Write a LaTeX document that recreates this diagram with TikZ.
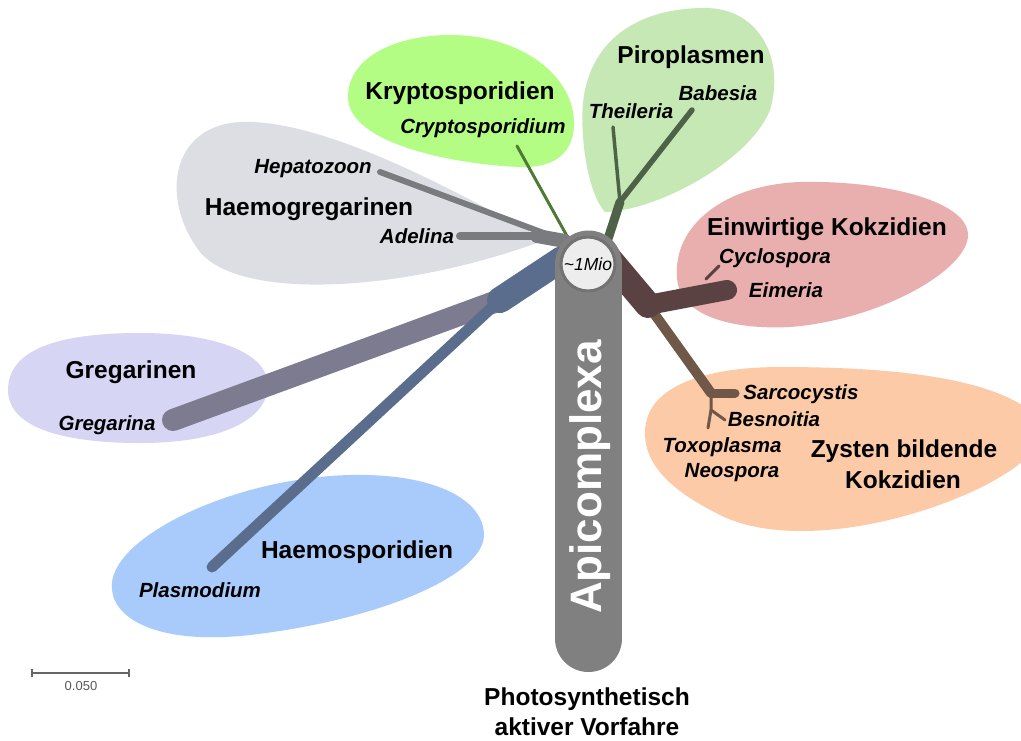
\documentclass[tikz,border=0pt]{standalone}
\usepackage{fontspec}
\setmainfont{Liberation Sans}
\definecolor{cHg}{HTML}{DCDEE3}
\definecolor{cKr}{HTML}{B3FD84}
\definecolor{cPi}{HTML}{C6E8B5}
\definecolor{cEi}{HTML}{E9AEAE}
\definecolor{cZy}{HTML}{FDCAA7}
\definecolor{cGr}{HTML}{D6D5F4}
\definecolor{cHs}{HTML}{A9CBFB}
\definecolor{bHg}{HTML}{7A7B7F}
\definecolor{bKr}{HTML}{4E7A36}
\definecolor{bPi}{HTML}{4D6247}
\definecolor{bEi}{HTML}{5B4242}
\definecolor{bZy}{HTML}{6F5847}
\definecolor{bGr}{HTML}{7D7B8F}
\definecolor{bBl}{HTML}{5A6D8C}
\definecolor{stalk}{HTML}{808080}
\begin{document}
\begin{tikzpicture}[x=1pt,y=-1pt,
  grp/.style={font=\bfseries\fontsize{24.5}{28}\selectfont, anchor=base, inner sep=0pt},
  gen/.style={font=\bfseries\itshape\fontsize{20.5}{24}\selectfont, anchor=base, inner sep=0pt},
  br/.style={line cap=round, line join=round}]
\useasboundingbox (0,0) rectangle (1021,740);
\fill[white] (0,0) rectangle (1021,740);
% blobs
\begin{scope}
\clip (0,0) rectangle (1021,740);
\fill[cHg] (545,240) .. controls (480,205) and (330,118) .. (240,122) .. controls (170,126) and (160,200) .. (200,252) .. controls (240,300) and (400,294) .. (545,240) -- cycle;
\fill[cKr] (348,97) .. controls (348,55) and (400,35) .. (450,35) .. controls (520,35) and (575,75) .. (574,125) .. controls (573,160) and (545,168) .. (520,167) .. controls (460,165) and (348,145) .. (348,97) -- cycle;
\fill[cPi] (605,212) .. controls (585,190) and (578,120) .. (585,90) .. controls (598,30) and (650,8) .. (705,8) .. controls (760,8) and (785,60) .. (770,110) .. controls (750,160) and (660,210) .. (605,212) -- cycle;
\fill[cEi] (678,285) .. controls (668,230) and (720,185) .. (800,182) .. controls (880,180) and (968,200) .. (968,235) .. controls (968,270) and (880,320) .. (790,327) .. controls (730,330) and (685,315) .. (678,285) -- cycle;
\fill[cZy] (645,433) .. controls (645,380) and (720,367) .. (780,367) .. controls (880,367) and (1000,375) .. (1040,420) .. controls (1060,450) and (980,500) .. (880,522) .. controls (820,535) and (760,535) .. (720,515) .. controls (680,495) and (645,470) .. (645,433) -- cycle;
\fill[cGr] (8,390) .. controls (8,345) and (70,333) .. (140,333) .. controls (220,333) and (268,355) .. (268,385) .. controls (268,420) and (220,443) .. (140,443) .. controls (70,443) and (8,430) .. (8,390) -- cycle;
\fill[cHs] (112,590) .. controls (105,540) and (230,478) .. (350,475) .. controls (435,473) and (484,500) .. (484,535) .. controls (484,575) and (380,620) .. (250,635) .. controls (160,645) and (115,620) .. (112,590) -- cycle;
\end{scope}
% tree coordinates
\coordinate (root) at (588,264);
\coordinate (hgJ) at (565,241);
\coordinate (hgB) at (537,236);
\coordinate (adel) at (460,236);
\coordinate (hepa) at (380,172);
\coordinate (kr0) at (567,236);
\coordinate (kr) at (517,146);
\coordinate (pi0) at (606,245);
\coordinate (piJ) at (620,202);
\coordinate (the) at (613,127);
\coordinate (bab) at (692,110);
\coordinate (ei0) at (600,248);
\coordinate (eiJ) at (648,305);
\coordinate (eim) at (727,290);
\coordinate (cy0) at (706,279);
\coordinate (cyc) at (719,266);
\coordinate (zyJ) at (711,393);
\coordinate (sar) at (735,393);
\coordinate (zy2) at (711,410);
\coordinate (bes) at (725,420);
\coordinate (tox) at (708,428);
\coordinate (bl0) at (562,259);
\coordinate (blJ) at (500,300);
\coordinate (gre) at (173,420);
\coordinate (pla) at (212,567);
% branches
\draw[br, bKr, line width=3] (kr0) -- (kr);
\draw[br, bPi, line width=9] (pi0) -- (piJ);
\draw[br, bPi, line width=3.5] (piJ) -- (the);
\draw[br, bPi, line width=5.5] (piJ) -- (bab);
\draw[br, bZy, line width=10] (eiJ) -- (zyJ);
\draw[br, bZy, line width=9] (zyJ) -- (sar);
\draw[br, bZy, line width=3] (zyJ) -- (zy2) -- (bes);
\draw[br, bZy, line width=3] (zy2) -- (tox);
\draw[br, bEi, line width=26] (ei0) -- (eiJ);
\draw[br, bEi, line width=20] (eiJ) -- (eim);
\draw[br, bEi, line width=3] (cy0) -- (cyc);
\draw[br, bGr, line width=22] (gre) -- (blJ);
\draw[br, bBl, line width=11] (pla) -- (blJ);
\draw[br, bBl, line width=26] (blJ) -- (bl0);
\draw[br, bHg, line width=6] (hepa) -- (hgJ);
\draw[br, bHg, line width=8] (adel) -- (hgB);
\draw[br, bHg, line width=14] (hgB) -- (hgJ);
% stalk
\coordinate (stT) at (588.5,264);
\coordinate (stB) at (588.5,638.5);
\draw[stalk, line width=67, line cap=round] (stT) -- (stB);
\node[rotate=90, anchor=base, inner sep=0pt, text=white, font=\bfseries\fontsize{44}{50}\selectfont] (api) at (601,477) {Apicomplexa};
\node[circle, draw=black!55, line width=3, fill=black!7, minimum size=54pt, inner sep=0pt, font=\itshape\fontsize{17.5}{20}\selectfont] (mio) at (root) {\textasciitilde 1Mio};
% labels
\node[grp] (lKr) at (460,99) {Kryptosporidien};
\node[gen] (gKr) at (483,133) {Cryptosporidium};
\node[grp] (lPi) at (691,63) {Piroplasmen};
\node[gen] (gThe) at (631,118) {Theileria};
\node[gen] (gBab) at (718,100) {Babesia};
\node[gen] (gHep) at (313,173) {Hepatozoon};
\node[grp] (lHg) at (309,215) {Haemogregarinen};
\node[gen] (gAde) at (417,243) {Adelina};
\node[grp] (lGr) at (131,378) {Gregarinen};
\node[gen] (gGre) at (107,430) {Gregarina};
\node[grp] (lHs) at (357,558) {Haemosporidien};
\node[gen] (gPla) at (200,597) {Plasmodium};
\node[grp] (lEi) at (827,235) {Einwirtige Kokzidien};
\node[gen] (gCyc) at (775,263) {Cyclospora};
\node[gen] (gEim) at (786,297) {Eimeria};
\node[gen] (gSar) at (801,399) {Sarcocystis};
\node[gen] (gBes) at (774,426) {Besnoitia};
\node[gen] (gTox) at (722,452) {Toxoplasma};
\node[gen] (gNeo) at (732,477) {Neospora};
\node[grp] (lZy1) at (904,457) {Zysten bildende};
\node[grp] (lZy2) at (903,488) {Kokzidien};
\node[grp] (lPh1) at (587,705) {Photosynthetisch};
\node[grp] (lPh2) at (587,735) {aktiver Vorfahre};
% scale bar
\coordinate (sb1) at (32,673);
\coordinate (sb2) at (129,673);
\draw[black!60, line width=2] (sb1) -- (sb2);
\draw[black!60, line width=1.5] ([yshift=-4]sb1) -- ([yshift=4]sb1);
\draw[black!60, line width=1.5] ([yshift=-4]sb2) -- ([yshift=4]sb2);
\node[font=\fontsize{13}{15}\selectfont, text=black!65, anchor=base, inner sep=0pt] (sbl) at (81,690) {0.050};
\end{tikzpicture}
\end{document}
